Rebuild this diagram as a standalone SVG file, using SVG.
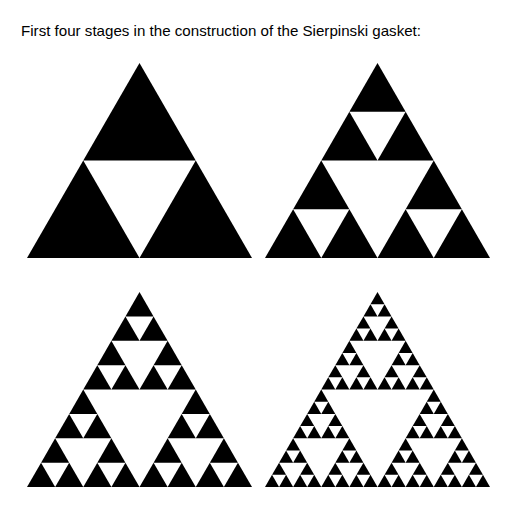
<svg xmlns="http://www.w3.org/2000/svg" xmlns:xlink="http://www.w3.org/1999/xlink" width="516" height="510" viewBox="0 0 516 510">
<style>
.title{font-family:"Liberation Sans",Arial,sans-serif;font-size:15px;fill:#000}
.tri{fill:#000}
</style>
<defs>
<polygon id="g0" class="tri" points="0,195 225,195 112.5,0"/>
<g id="g1">
<use xlink:href="#g0" href="#g0" transform="translate(0,97.5) scale(0.5)"/>
<use xlink:href="#g0" href="#g0" transform="translate(112.5,97.5) scale(0.5)"/>
<use xlink:href="#g0" href="#g0" transform="translate(56.25,0) scale(0.5)"/>
</g>
<g id="g2">
<use xlink:href="#g1" href="#g1" transform="translate(0,97.5) scale(0.5)"/>
<use xlink:href="#g1" href="#g1" transform="translate(112.5,97.5) scale(0.5)"/>
<use xlink:href="#g1" href="#g1" transform="translate(56.25,0) scale(0.5)"/>
</g>
<g id="g3">
<use xlink:href="#g2" href="#g2" transform="translate(0,97.5) scale(0.5)"/>
<use xlink:href="#g2" href="#g2" transform="translate(112.5,97.5) scale(0.5)"/>
<use xlink:href="#g2" href="#g2" transform="translate(56.25,0) scale(0.5)"/>
</g>
<g id="g4">
<use xlink:href="#g3" href="#g3" transform="translate(0,97.5) scale(0.5)"/>
<use xlink:href="#g3" href="#g3" transform="translate(112.5,97.5) scale(0.5)"/>
<use xlink:href="#g3" href="#g3" transform="translate(56.25,0) scale(0.5)"/>
</g>
</defs>
<rect width="516" height="510" fill="#fff"/>
<text class="title" x="21" y="36" textLength="400" lengthAdjust="spacingAndGlyphs">First four stages in the construction of the Sierpinski gasket:</text>
<g id="stage1" transform="translate(27,63)"><use xlink:href="#g1" href="#g1"/></g>
<g id="stage2" transform="translate(265,63)"><use xlink:href="#g2" href="#g2"/></g>
<g id="stage3" transform="translate(27,292)"><use xlink:href="#g3" href="#g3"/></g>
<g id="stage4" transform="translate(265,292)"><use xlink:href="#g4" href="#g4"/></g>
<g id="connectors"/>
</svg>
